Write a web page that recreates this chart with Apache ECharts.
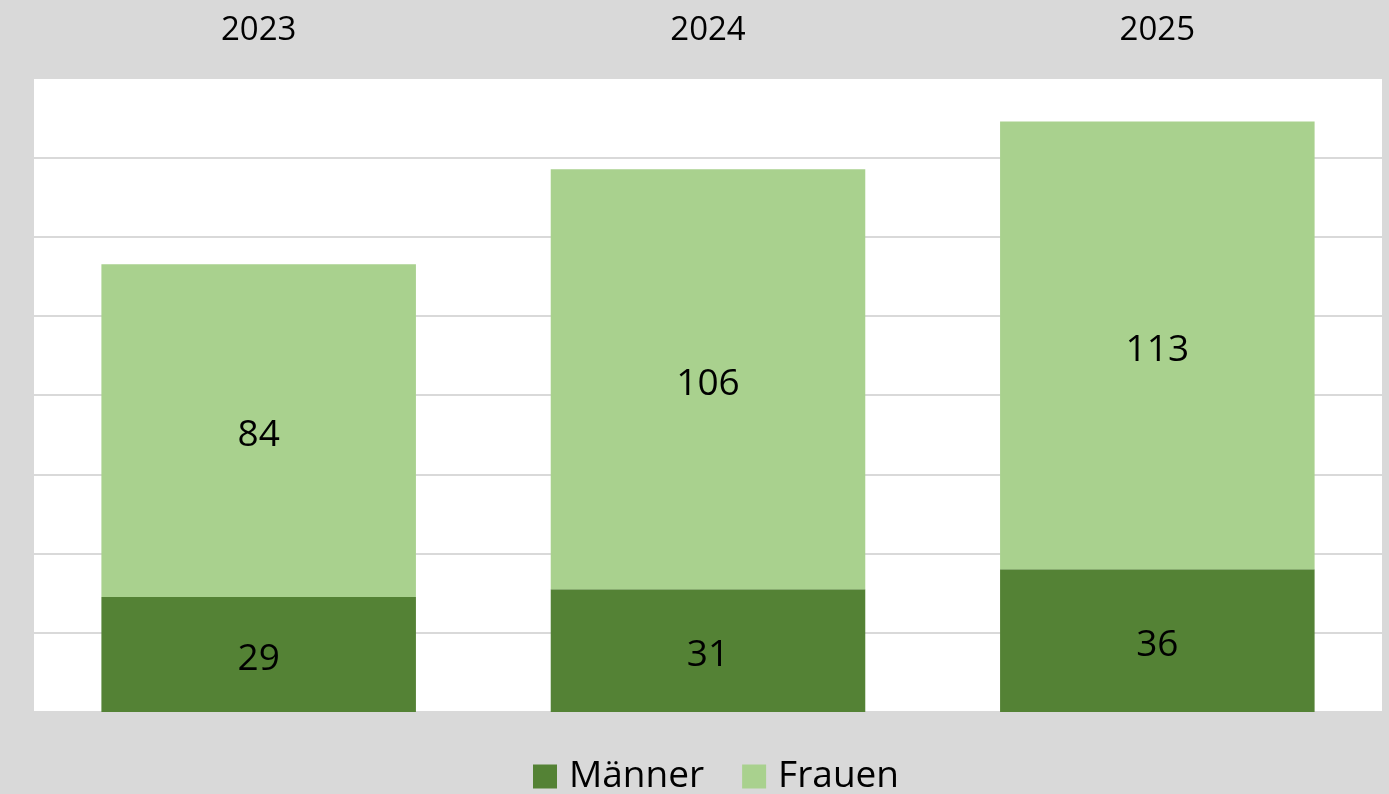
<!DOCTYPE html>
<html>
<head>
<meta charset="utf-8">
<script src="https://cdn.jsdelivr.net/npm/echarts@6/dist/echarts.min.js"></script>
<style>
  html, body { margin: 0; padding: 0; background: #d9d9d9; }
  #chart { width: 1389px; height: 794px; }
</style>
</head>
<body>
<div id="chart"></div>
<script>
// Jahre und Werte
var years = ['2023', '2024', '2025'];
var maenner = [29, 31, 36];
var frauen = [84, 106, 113];

var myChart = echarts.init(document.getElementById('chart'));
var fontFam = '"Open Sans", "Liberation Sans", sans-serif';

var option = {
    backgroundColor: '#d9d9d9',
    textStyle: { fontFamily: fontFam },
    grid: {
        left: 34,
        right: 7,
        top: 78,
        bottom: 82,
        show: true,
        backgroundColor: '#ffffff',
        borderWidth: 0
    },
    legend: {
        data: ['Männer', 'Frauen'],
        bottom: -6,
        left: 528,
        itemWidth: 24,
        itemHeight: 24,
        itemGap: 38,
        icon: 'rect',
        textStyle: { fontSize: 37, color: '#000', fontFamily: fontFam, padding: [0, 0, 0, 7] }
    },
    xAxis: {
        type: 'category',
        position: 'top',
        data: years,
        axisLine: { show: false },
        axisTick: { show: false },
        axisLabel: { fontSize: 33, color: '#000', margin: 31, fontFamily: fontFam }
    },
    yAxis: {
        type: 'value',
        min: 0,
        max: 160,
        interval: 20,
        axisLabel: { show: false },
        axisLine: { show: false },
        axisTick: { show: false },
        splitLine: { lineStyle: { color: '#d9d9d9', width: 2 } }
    },
    series: [
        {
            name: 'Männer',
            type: 'bar',
            stack: 'gesamt',
            data: maenner,
            barCategoryGap: '30%',
            itemStyle: { color: '#548235' },
            label: { show: true, position: 'inside', offset: [0, 5], fontSize: 37, color: '#000', fontFamily: fontFam }
        },
        {
            name: 'Frauen',
            type: 'bar',
            stack: 'gesamt',
            data: frauen,
            barCategoryGap: '30%',
            itemStyle: { color: '#a9d18e' },
            label: { show: true, position: 'inside', offset: [0, 5], fontSize: 37, color: '#000', fontFamily: fontFam }
        }
    ]
};
myChart.setOption(option);
</script>
</body>
</html>
